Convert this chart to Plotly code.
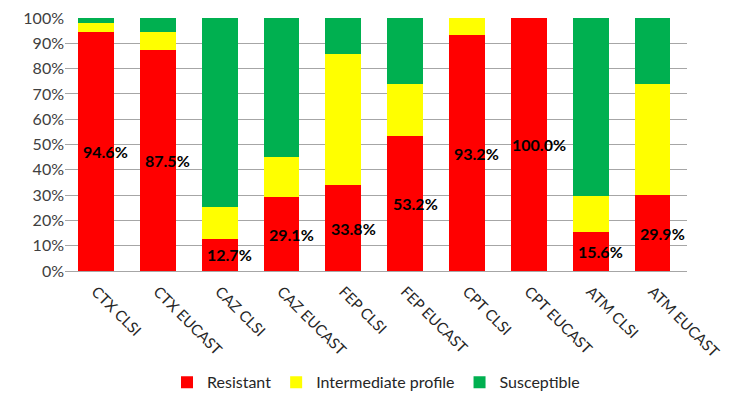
import plotly.graph_objects as go

categories = ["CTX CLSI", "CTX EUCAST", "CAZ CLSI", "CAZ EUCAST", "FEP CLSI",
              "FEP EUCAST", "CPT CLSI", "CPT EUCAST", "ATM CLSI", "ATM EUCAST"]
resistant = [94.6, 87.5, 12.7, 29.1, 33.8, 53.2, 93.2, 100.0, 15.6, 29.9]
intermediate = [3.3, 7.0, 12.5, 16.1, 51.8, 20.6, 6.8, 0.0, 14.0, 43.9]
susceptible = [2.1, 5.5, 74.8, 54.8, 14.4, 26.2, 0.0, 0.0, 70.4, 26.2]
y_ticks = list(range(0, 101, 10))
y_tick_labels = ["%d%%" % v for v in y_ticks]

FONT = "Lato, Calibri, Arial, sans-serif"

fig = go.Figure()
fig.add_bar(x=categories, y=resistant, name="Resistant", marker=dict(color="#FF0000", line=dict(width=0)))
fig.add_bar(x=categories, y=intermediate, name="Intermediate profile", marker=dict(color="#FFFF00", line=dict(width=0)))
fig.add_bar(x=categories, y=susceptible, name="Susceptible", marker=dict(color="#00B050", line=dict(width=0)))

for c, r in zip(categories, resistant):
    fig.add_annotation(x=c, y=r / 2, text="<b>%.1f%%</b>" % r, showarrow=False,
                       xshift=10, font=dict(family=FONT, size=16, color="black"))

fig.update_layout(
    barmode="stack",
    bargap=0.42,
    width=730, height=393,
    margin=dict(l=65, r=43, t=18, b=122, autoexpand=False),
    paper_bgcolor="white", plot_bgcolor="white",
    font=dict(family=FONT, size=14, color="#404040"),
    legend=dict(orientation="h", x=0.5, xanchor="center", y=-0.44, yanchor="middle",
                font=dict(family=FONT, size=16, color="#262626"),
                traceorder="normal"),
    xaxis=dict(tickangle=45, showline=True, linecolor="#a6a6a6", ticks="", automargin=False,
               ticklabelstandoff=5,
               tickfont=dict(family=FONT, size=15, color="#262626")),
    yaxis=dict(range=[0, 100], tickvals=y_ticks, ticktext=y_tick_labels, automargin=False,
               showgrid=True, gridcolor="#a6a6a6", gridwidth=1, zeroline=False,
               tickfont=dict(family=FONT, size=16, color="#404040")),
)

fig.write_html("out.html", config={"displayModeBar": False},
               post_script="document.body.style.margin='0';")
